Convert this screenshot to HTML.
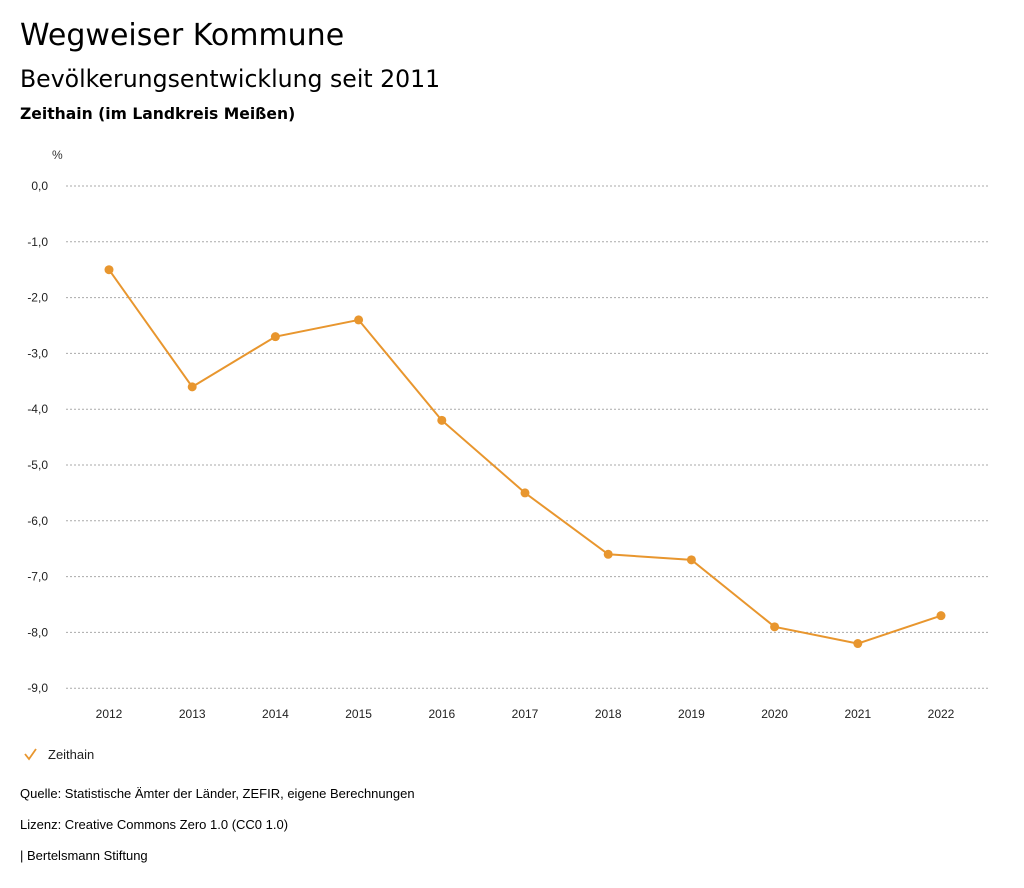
<!DOCTYPE html>
<html><head><meta charset="utf-8"><style>
body{margin:0;background:#fff;font-family:"Liberation Sans",sans-serif;color:#000;}
.t{position:absolute;left:20px;white-space:nowrap;}
.d{font-family:"DejaVu Sans",sans-serif;}
</style></head><body>
<div style="position:relative;width:1024px;height:888px;overflow:hidden">
<div class="t d" style="top:18px;font-size:30px">Wegweiser Kommune</div>
<div class="t d" style="top:65px;font-size:23.6px">Bevölkerungsentwicklung seit 2011</div>
<div class="t d" style="top:105px;font-size:15.6px;font-weight:bold">Zeithain (im Landkreis Meißen)</div>
<svg id="c" width="1024" height="888" style="position:absolute;left:0;top:0"></svg>
<div class="t" style="top:786px;font-size:13px">Quelle: Statistische Ämter der Länder, ZEFIR, eigene Berechnungen</div>
<div class="t" style="top:817px;font-size:13px">Lizenz: Creative Commons Zero 1.0 (CC0 1.0)</div>
<div class="t" style="top:848px;font-size:13px">| Bertelsmann Stiftung</div>
</div>
<script>
const years=["2012","2013","2014","2015","2016","2017","2018","2019","2020","2021","2022"];
const values=[-1.5,-3.6,-2.7,-2.4,-4.2,-5.5,-6.6,-6.7,-7.9,-8.2,-7.7];
const yTicks=[0,-1,-2,-3,-4,-5,-6,-7,-8,-9];
const seriesName="Zeithain";
const NS="http://www.w3.org/2000/svg",svg=document.getElementById('c');
const col="#e8962e";
function y(v){return 186+(-v)*55.8;}
function x(i){return 109+i*83.2;}
function mk(t,a,txt){const e=document.createElementNS(NS,t);for(const k in a)e.setAttribute(k,a[k]);if(txt!=null)e.textContent=txt;svg.appendChild(e);return e;}
let e=mk('text',{x:52,y:159,'font-size':12,fill:'#333'},'%');


yTicks.forEach(v=>{
 let l=mk('line',{x1:66,x2:990,y1:y(v),y2:y(v),stroke:'#aaa','stroke-dasharray':'2,2','stroke-width':1});
 
 
 let t=mk('text',{x:48,y:y(v)+4,'font-size':12,'text-anchor':'end',fill:'#222'},v.toFixed(1).replace('.',',').replace('-0,0','0,0'));
 
 
});
years.forEach((yr,i)=>{
 let t=mk('text',{x:x(i),y:718,'font-size':12,'text-anchor':'middle',fill:'#222'},yr);
 
 
});
let p=mk('polyline',{points:values.map((v,i)=>x(i)+','+y(v)).join(' '),fill:'none',stroke:col,'stroke-width':2});


values.forEach((v,i)=>{
 let c=mk('circle',{cx:x(i),cy:y(v),r:4.5,fill:col});
 
 
});
let g=mk('polyline',{points:'25,754 29,759 36,749',fill:'none',stroke:col,'stroke-width':1.8});


let lt=mk('text',{x:48,y:759,'font-size':13,fill:'#222'},seriesName);


</script>
</body></html>
